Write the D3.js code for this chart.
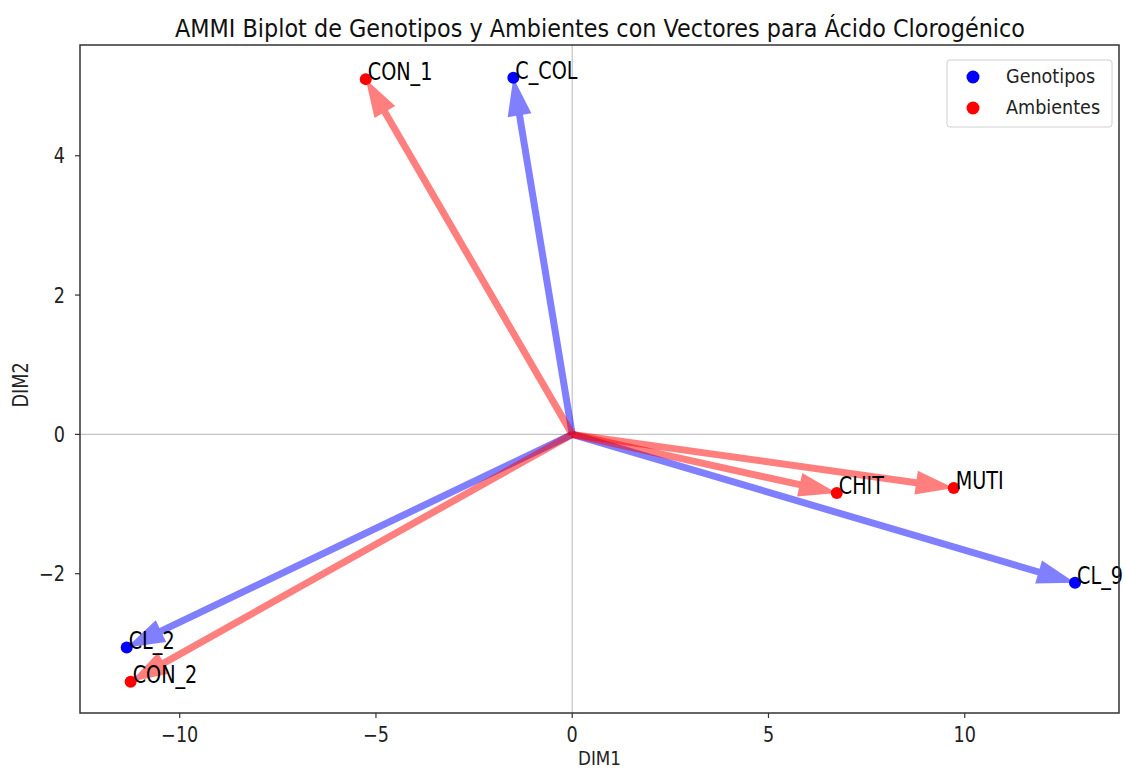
<!DOCTYPE html>
<html>
<head>
<meta charset="utf-8">
<script src="https://cdn.jsdelivr.net/npm/d3@7"></script>
<style>
  html, body { margin: 0; padding: 0; background: #fff; }
  text { font-family: "DejaVu Sans", sans-serif; }
</style>
</head>
<body>
<svg id="chart" width="1125" height="771"></svg>
<script>
// ---- data ----
const genotypes = ["C_COL", "CL_9", "CL_2"];
const genoDim1 = [-1.50, 12.81, -11.35];
const genoDim2 = [5.12, -2.13, -3.06];

const environments = ["CON_1", "CHIT", "MUTI", "CON_2"];
const envDim1 = [-5.26, 6.74, 9.72, -11.25];
const envDim2 = [5.10, -0.84, -0.77, -3.55];

const xTicks = [-10, -5, 0, 5, 10];
const yTicks = [-2, 0, 2, 4];
const legendLabels = ["Genotipos", "Ambientes"];

const titleText = "AMMI Biplot de Genotipos y Ambientes con Vectores para Ácido Clorogénico";
const xLabel = "DIM1";
const yLabel = "DIM2";

// ---- layout ----
const svg = d3.select("#chart");
const L = 80, R = 1119, T = 45, B = 713;
const SX = 0.86; // horizontal squeeze of glyphs

const x = d3.scaleLinear().domain([-12.54, 13.93]).range([L, R]);
const y = d3.scaleLinear().domain([-4.0, 5.59]).range([B, T]);

function sText(g, px, py, str, size, anchor, fill, sx) {
  return g.append("text")
    .attr("transform", `translate(${px},${py}) scale(${sx || SX},1)`)
    .attr("text-anchor", anchor || "start")
    .attr("font-size", size)
    .attr("fill", fill || "#000")
    .text(str);
}

// zero lines
svg.append("line").attr("x1", L).attr("x2", R).attr("y1", y(0)).attr("y2", y(0))
  .attr("stroke", "#c4c4c4").attr("stroke-width", 1.2);
svg.append("line").attr("y1", T).attr("y2", B).attr("x1", x(0)).attr("x2", x(0))
  .attr("stroke", "#c4c4c4").attr("stroke-width", 1.2);

// arrows
function arrowPath(x0, y0, x1, y1) {
  const dx = x1 - x0, dy = y1 - y0, len = Math.hypot(dx, dy);
  const ux = dx / len, uy = dy / len, px = -uy, py = ux;
  const hl = 38, hw = 12, sw = 3.5;
  const bx = x1 - ux * hl, by = y1 - uy * hl;
  const pts = [
    [x0 + px * sw, y0 + py * sw],
    [bx + px * sw, by + py * sw],
    [bx + px * hw, by + py * hw],
    [x1, y1],
    [bx - px * hw, by - py * hw],
    [bx - px * sw, by - py * sw],
    [x0 - px * sw, y0 - py * sw]
  ];
  return "M" + pts.map(p => p[0].toFixed(2) + "," + p[1].toFixed(2)).join("L") + "Z";
}

const gArrows = svg.append("g");
genotypes.forEach((n, i) => {
  gArrows.append("path").attr("d", arrowPath(x(0), y(0), x(genoDim1[i]), y(genoDim2[i])))
    .attr("fill", "blue").attr("opacity", 0.5);
});
environments.forEach((n, i) => {
  gArrows.append("path").attr("d", arrowPath(x(0), y(0), x(envDim1[i]), y(envDim2[i])))
    .attr("fill", "red").attr("opacity", 0.5);
});

// points
svg.append("g").selectAll("circle").data(genotypes).join("circle")
  .attr("cx", (d, i) => x(genoDim1[i])).attr("cy", (d, i) => y(genoDim2[i]))
  .attr("r", 6).attr("fill", "blue");
svg.append("g").selectAll("circle").data(environments).join("circle")
  .attr("cx", (d, i) => x(envDim1[i])).attr("cy", (d, i) => y(envDim2[i]))
  .attr("r", 6).attr("fill", "red");

// labels
const gLab = svg.append("g");
genotypes.forEach((n, i) => sText(gLab, x(genoDim1[i]) + 2, y(genoDim2[i]) + 1, n, 24, "start", "#000", 0.8));
environments.forEach((n, i) => sText(gLab, x(envDim1[i]) + 2, y(envDim2[i]) + 1, n, 24, "start", "#000", 0.8));

// frame
svg.append("rect").attr("x", L).attr("y", T).attr("width", R - L).attr("height", B - T)
  .attr("fill", "none").attr("stroke", "#333").attr("stroke-width", 1.5);

// ticks
const gT = svg.append("g");
const fmt = v => (v < 0 ? "\u2212" + Math.abs(v) : String(v));
xTicks.forEach(v => {
  gT.append("line").attr("x1", x(v)).attr("x2", x(v)).attr("y1", B).attr("y2", B + 5)
    .attr("stroke", "#333").attr("stroke-width", 1.2);
  sText(gT, x(v), 742, fmt(v), 20.5, "middle", "#222");
});
yTicks.forEach(v => {
  gT.append("line").attr("y1", y(v)).attr("y2", y(v)).attr("x1", L - 5).attr("x2", L)
    .attr("stroke", "#333").attr("stroke-width", 1.2);
  sText(gT, 65, y(v) + 7.5, fmt(v), 20.5, "end", "#222");
});

// axis labels
sText(svg, (L + R) / 2, 765, xLabel, 19.5, "middle", "#222");
svg.append("text")
  .attr("transform", `translate(28,385) rotate(-90) scale(${SX},1)`)
  .attr("text-anchor", "middle").attr("font-size", 20.5).attr("fill", "#222")
  .text(yLabel);

// title
svg.append("text").attr("x", 175).attr("y", 37)
  .attr("font-size", 25).attr("fill", "#111")
  .attr("textLength", 850).attr("lengthAdjust", "spacingAndGlyphs")
  .text(titleText);

// legend
const gL = svg.append("g");
gL.append("rect").attr("x", 947).attr("y", 60).attr("width", 165).attr("height", 67)
  .attr("rx", 3).attr("fill", "#fff").attr("fill-opacity", 0.8)
  .attr("stroke", "#d0d0d0").attr("stroke-width", 1);
const legColors = ["blue", "red"];
legendLabels.forEach((lab, i) => {
  gL.append("circle").attr("cx", 973).attr("cy", 77 + i * 31).attr("r", 6.5).attr("fill", legColors[i]);
  sText(gL, 1006, 83 + i * 31, lab, 20, "start", "#222", 0.88);
});
</script>
</body>
</html>
